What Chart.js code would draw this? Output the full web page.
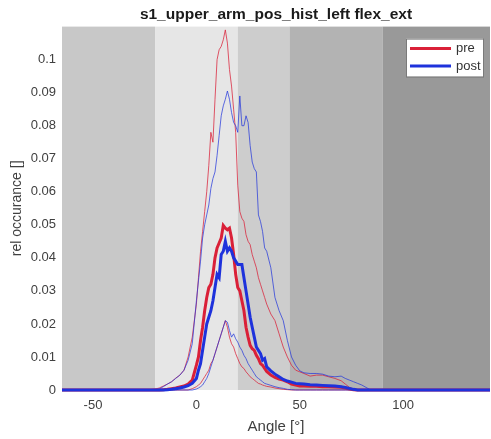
<!DOCTYPE html>
<html lang="en">
<head>
  <meta charset="UTF-8">
  <title>s1_upper_arm_pos_hist_left flex_ext</title>
  <script src="https://cdn.jsdelivr.net/npm/chart.js"></script>
  <style>
    html, body { margin: 0; padding: 0; background: #ffffff; }
    #wrap { width: 491px; height: 439px; }
  </style>
</head>
<body>
  <div id="wrap"><canvas id="histChart" width="491" height="439"></canvas></div>

  <script>
    // angle grid (deg) shared by all curves
    const angles = [-65, -24, -20, -18, -16, -14, -12, -10, -8, -6, -4, -2,
      0, 1, 2, 3, 4, 5, 6, 7, 8, 9, 10, 11, 12, 13, 14, 15, 16, 17, 18, 19, 20,
      21, 22, 23, 24, 25, 26, 27, 28, 29, 30, 31, 32, 33, 34,
      36, 38, 40, 42, 44, 46, 48, 50, 52,
      55, 58, 61, 64, 67, 70,
      72, 74, 76, 78, 80, 82, 84, 86,
      142];

    const preUpper = [0, 0, 0.0003, 0.0006, 0.0012, 0.0018, 0.0025, 0.0036, 0.0045, 0.006, 0.010, 0.016,
      0.026, 0.034, 0.042, 0.048, 0.054, 0.060, 0.068, 0.078, 0.075, 0.088, 0.100, 0.103, 0.104, 0.106, 0.109, 0.105, 0.097, 0.092, 0.085, 0.078, 0.062,
      0.054, 0.052, 0.051, 0.047, 0.045, 0.044, 0.041, 0.039, 0.037, 0.034, 0.032, 0.030, 0.028, 0.026,
      0.023, 0.021, 0.017, 0.013, 0.010, 0.0075, 0.006, 0.0055, 0.005,
      0.0042, 0.0045, 0.0045, 0.004, 0.0035, 0.0028,
      0.0018, 0.0008, 0.0002, 0, 0, 0, 0, 0,
      0];
    const preMean = [0, 0, 0, 0, 0.0001, 0.0002, 0.0004, 0.0006, 0.0009, 0.0012, 0.0018, 0.003,
      0.0075, 0.010, 0.015, 0.019, 0.024, 0.028, 0.031, 0.032, 0.035, 0.040, 0.043, 0.0445, 0.046, 0.0498, 0.049, 0.0485, 0.049, 0.046, 0.041, 0.035, 0.031,
      0.030, 0.027, 0.024, 0.019, 0.016, 0.0135, 0.0125, 0.012, 0.0105, 0.0095, 0.008, 0.0075, 0.0065, 0.0056,
      0.0045, 0.0038, 0.0033, 0.003, 0.0025, 0.0018, 0.0015, 0.0012, 0.0012,
      0.0011, 0.0011, 0.001, 0.001, 0.0009, 0.0008,
      0.0006, 0.0003, 0.0001, 0, 0, 0, 0, 0,
      0];
    const preLower = [0, 0, 0, 0, 0, 0, 0, 0, 0, 0, 0, 0.0004,
      0.001, 0.0015, 0.002, 0.003, 0.004, 0.005, 0.006, 0.008, 0.009, 0.011, 0.013, 0.015, 0.017, 0.019, 0.021, 0.019, 0.016, 0.014, 0.013, 0.011, 0.0095,
      0.008, 0.007, 0.0065, 0.0055, 0.0048, 0.004, 0.0035, 0.003, 0.0025, 0.002, 0.0018, 0.0015, 0.0013, 0.0011,
      0.0009, 0.0006, 0.0004, 0.0002, 0.0001, 0, 0, 0, 0,
      0, 0, 0, 0, 0, 0,
      0, 0, 0, 0, 0, 0, 0, 0,
      0];

    const postUpper = [0, 0, 0, 0.0003, 0.001, 0.0018, 0.0025, 0.0035, 0.0045, 0.006, 0.009, 0.014,
      0.027, 0.033, 0.039, 0.046, 0.050, 0.053, 0.056, 0.061, 0.064, 0.066, 0.071, 0.077, 0.083, 0.086, 0.088, 0.0905, 0.088, 0.084, 0.081, 0.080, 0.078,
      0.089, 0.080, 0.080, 0.083, 0.081, 0.074, 0.069, 0.067, 0.066, 0.053, 0.051, 0.048, 0.043, 0.042,
      0.037, 0.028, 0.024, 0.021, 0.015, 0.010, 0.0075, 0.0058, 0.0052,
      0.005, 0.005, 0.0048, 0.0042, 0.004, 0.0042,
      0.0035, 0.003, 0.0025, 0.002, 0.0015, 0.0008, 0.0001, 0,
      0];
    const postMean = [0, 0, 0, 0, 0, 0.0001, 0.0002, 0.0004, 0.0006, 0.0009, 0.0013, 0.002,
      0.0035, 0.006, 0.008, 0.012, 0.016, 0.020, 0.022, 0.024, 0.027, 0.031, 0.035, 0.034, 0.041, 0.042, 0.045, 0.042, 0.043, 0.042, 0.040, 0.039, 0.038,
      0.038, 0.038, 0.034, 0.030, 0.026, 0.022, 0.019, 0.016, 0.013, 0.012, 0.011, 0.009, 0.0095, 0.007,
      0.0058, 0.0048, 0.004, 0.0032, 0.0027, 0.0024, 0.002, 0.0019, 0.0018,
      0.0016, 0.0015, 0.0014, 0.0013, 0.0012, 0.001,
      0.0008, 0.0005, 0.0002, 0, 0, 0, 0, 0,
      0];
    const postLower = [0, 0, 0, 0, 0, 0, 0, 0, 0, 0, 0, 0,
      0.0003, 0.0006, 0.001, 0.0015, 0.0025, 0.0035, 0.005, 0.007, 0.009, 0.011, 0.013, 0.015, 0.017, 0.019, 0.021, 0.0205, 0.018, 0.016, 0.017, 0.0155, 0.0145,
      0.013, 0.012, 0.0105, 0.0095, 0.008, 0.007, 0.006, 0.005, 0.004, 0.0035, 0.003, 0.0025, 0.002, 0.0018,
      0.0014, 0.001, 0.0007, 0.0005, 0.0002, 0.0001, 0, 0, 0,
      0, 0, 0, 0, 0, 0,
      0, 0, 0, 0, 0, 0, 0, 0,
      0];

    const xTicks = [-50, 0, 50, 100];
    const yTicks = [0, 0.01, 0.02, 0.03, 0.04, 0.05, 0.06, 0.07, 0.08, 0.09, 0.1];
    // angle zones shaded behind the curves
    const zoneEdges = [-65, -20, 20, 45, 90, 142];
    const zoneShades = ['#c8c8c8', '#e6e6e6', '#cdcdcd', '#b3b3b3', '#999999'];

    const RED = 'rgb(218, 32, 56)';
    const RED_THIN = 'rgba(218, 32, 56, 0.75)';
    const BLUE = 'rgb(30, 50, 220)';
    const BLUE_THIN = 'rgba(30, 50, 220, 0.7)';
    const FONT = '"Liberation Sans", Arial, sans-serif';

    function pts(vals) {
      return angles.map((a, i) => ({ x: a, y: vals[i] }));
    }

    function curve(label, vals, color, width, order) {
      return {
        label: label,
        data: pts(vals),
        borderColor: color,
        backgroundColor: color,
        borderWidth: width,
        pointRadius: 0,
        showLine: true,
        tension: 0,
        clip: 3,
        order: order
      };
    }

    const zonePlugin = {
      id: 'zones',
      beforeDatasetsDraw(chart) {
        const { ctx, chartArea, scales } = chart;
        ctx.save();
        for (let i = 0; i < zoneShades.length; i++) {
          const x0 = scales.x.getPixelForValue(zoneEdges[i]);
          const x1 = scales.x.getPixelForValue(zoneEdges[i + 1]);
          ctx.fillStyle = zoneShades[i];
          ctx.fillRect(x0, chartArea.top, x1 - x0, chartArea.bottom - chartArea.top);
        }
        ctx.restore();
      }
    };

    // matlab-style legend box inside the axes, top right
    const boxLegend = {
      id: 'boxLegend',
      afterDraw(chart) {
        const { ctx, chartArea } = chart;
        const items = chart.data.datasets.filter(d => d.inLegend);
        const w = 77, h = 38;
        const x = chartArea.right - 84, y = chartArea.top + 12;
        ctx.save();
        ctx.fillStyle = '#ffffff';
        ctx.fillRect(x, y, w, h);
        ctx.strokeStyle = '#7a7a7a';
        ctx.lineWidth = 1;
        ctx.strokeRect(x + 0.5, y + 0.5, w, h);
        ctx.font = '13px ' + FONT;
        ctx.textBaseline = 'middle';
        items.forEach((d, i) => {
          const ly = y + 10 + i * 17.5;
          ctx.strokeStyle = d.borderColor;
          ctx.lineWidth = 3;
          ctx.beginPath();
          ctx.moveTo(x + 4, ly);
          ctx.lineTo(x + 45, ly);
          ctx.stroke();
          ctx.fillStyle = '#333333';
          ctx.fillText(d.label, x + 50, ly);
        });
        ctx.restore();
      }
    };

    const postMeanSet = curve('post', postMean, BLUE, 3, 0);
    postMeanSet.inLegend = true;
    const preMeanSet = curve('pre', preMean, RED, 3, 2);
    preMeanSet.inLegend = true;

    const ctx = document.getElementById('histChart').getContext('2d');
    const histChart = new Chart(ctx, {
      type: 'scatter',
      data: {
        datasets: [
          preMeanSet,
          postMeanSet,
          curve('post upper', postUpper, BLUE_THIN, 1, 1),
          curve('post lower', postLower, BLUE_THIN, 1, 1),
          curve('pre upper', preUpper, RED_THIN, 1, 3),
          curve('pre lower', preLower, RED_THIN, 1, 3)
        ]
      },
      options: {
        responsive: false,
        animation: false,
        layout: { padding: { left: 0, right: 1, top: 0, bottom: 0 } },
        scales: {
          x: {
            type: 'linear',
            min: -65,
            max: 142,
            grid: { display: false, drawTicks: false, tickLength: 0 },
            border: { display: false },
            afterBuildTicks: s => { s.ticks = xTicks.map(v => ({ value: v })); },
            afterFit: s => { s.height = 49; },
            ticks: {
              padding: 8,
              color: '#404040',
              font: { family: FONT, size: 13 }
            },
            title: {
              display: true,
              text: 'Angle [°]',
              color: '#404040',
              padding: { top: 2, bottom: 3 },
              font: { family: FONT, size: 15 }
            }
          },
          y: {
            min: 0,
            max: 0.11,
            grid: { display: false, drawTicks: false, tickLength: 0 },
            border: { display: false },
            afterBuildTicks: s => { s.ticks = yTicks.map(v => ({ value: v })); },
            afterFit: s => { s.width = 62; },
            ticks: {
              padding: 6,
              color: '#404040',
              font: { family: FONT, size: 13 },
              callback: v => String(Math.round(v * 100) / 100)
            },
            title: {
              display: true,
              text: 'rel occurance []',
              color: '#404040',
              padding: { top: 9, bottom: 0 },
              font: { family: FONT, size: 14 }
            }
          }
        },
        plugins: {
          legend: { display: false },
          tooltip: { enabled: false },
          title: {
            display: true,
            fullSize: false,
            text: 's1_upper_arm_pos_hist_left flex_ext',
            color: '#1a1a1a',
            padding: { top: 5, bottom: 3 },
            font: { family: FONT, size: 15.5, weight: 'bold' }
          }
        }
      },
      plugins: [zonePlugin, boxLegend]
    });
  </script>
</body>
</html>
